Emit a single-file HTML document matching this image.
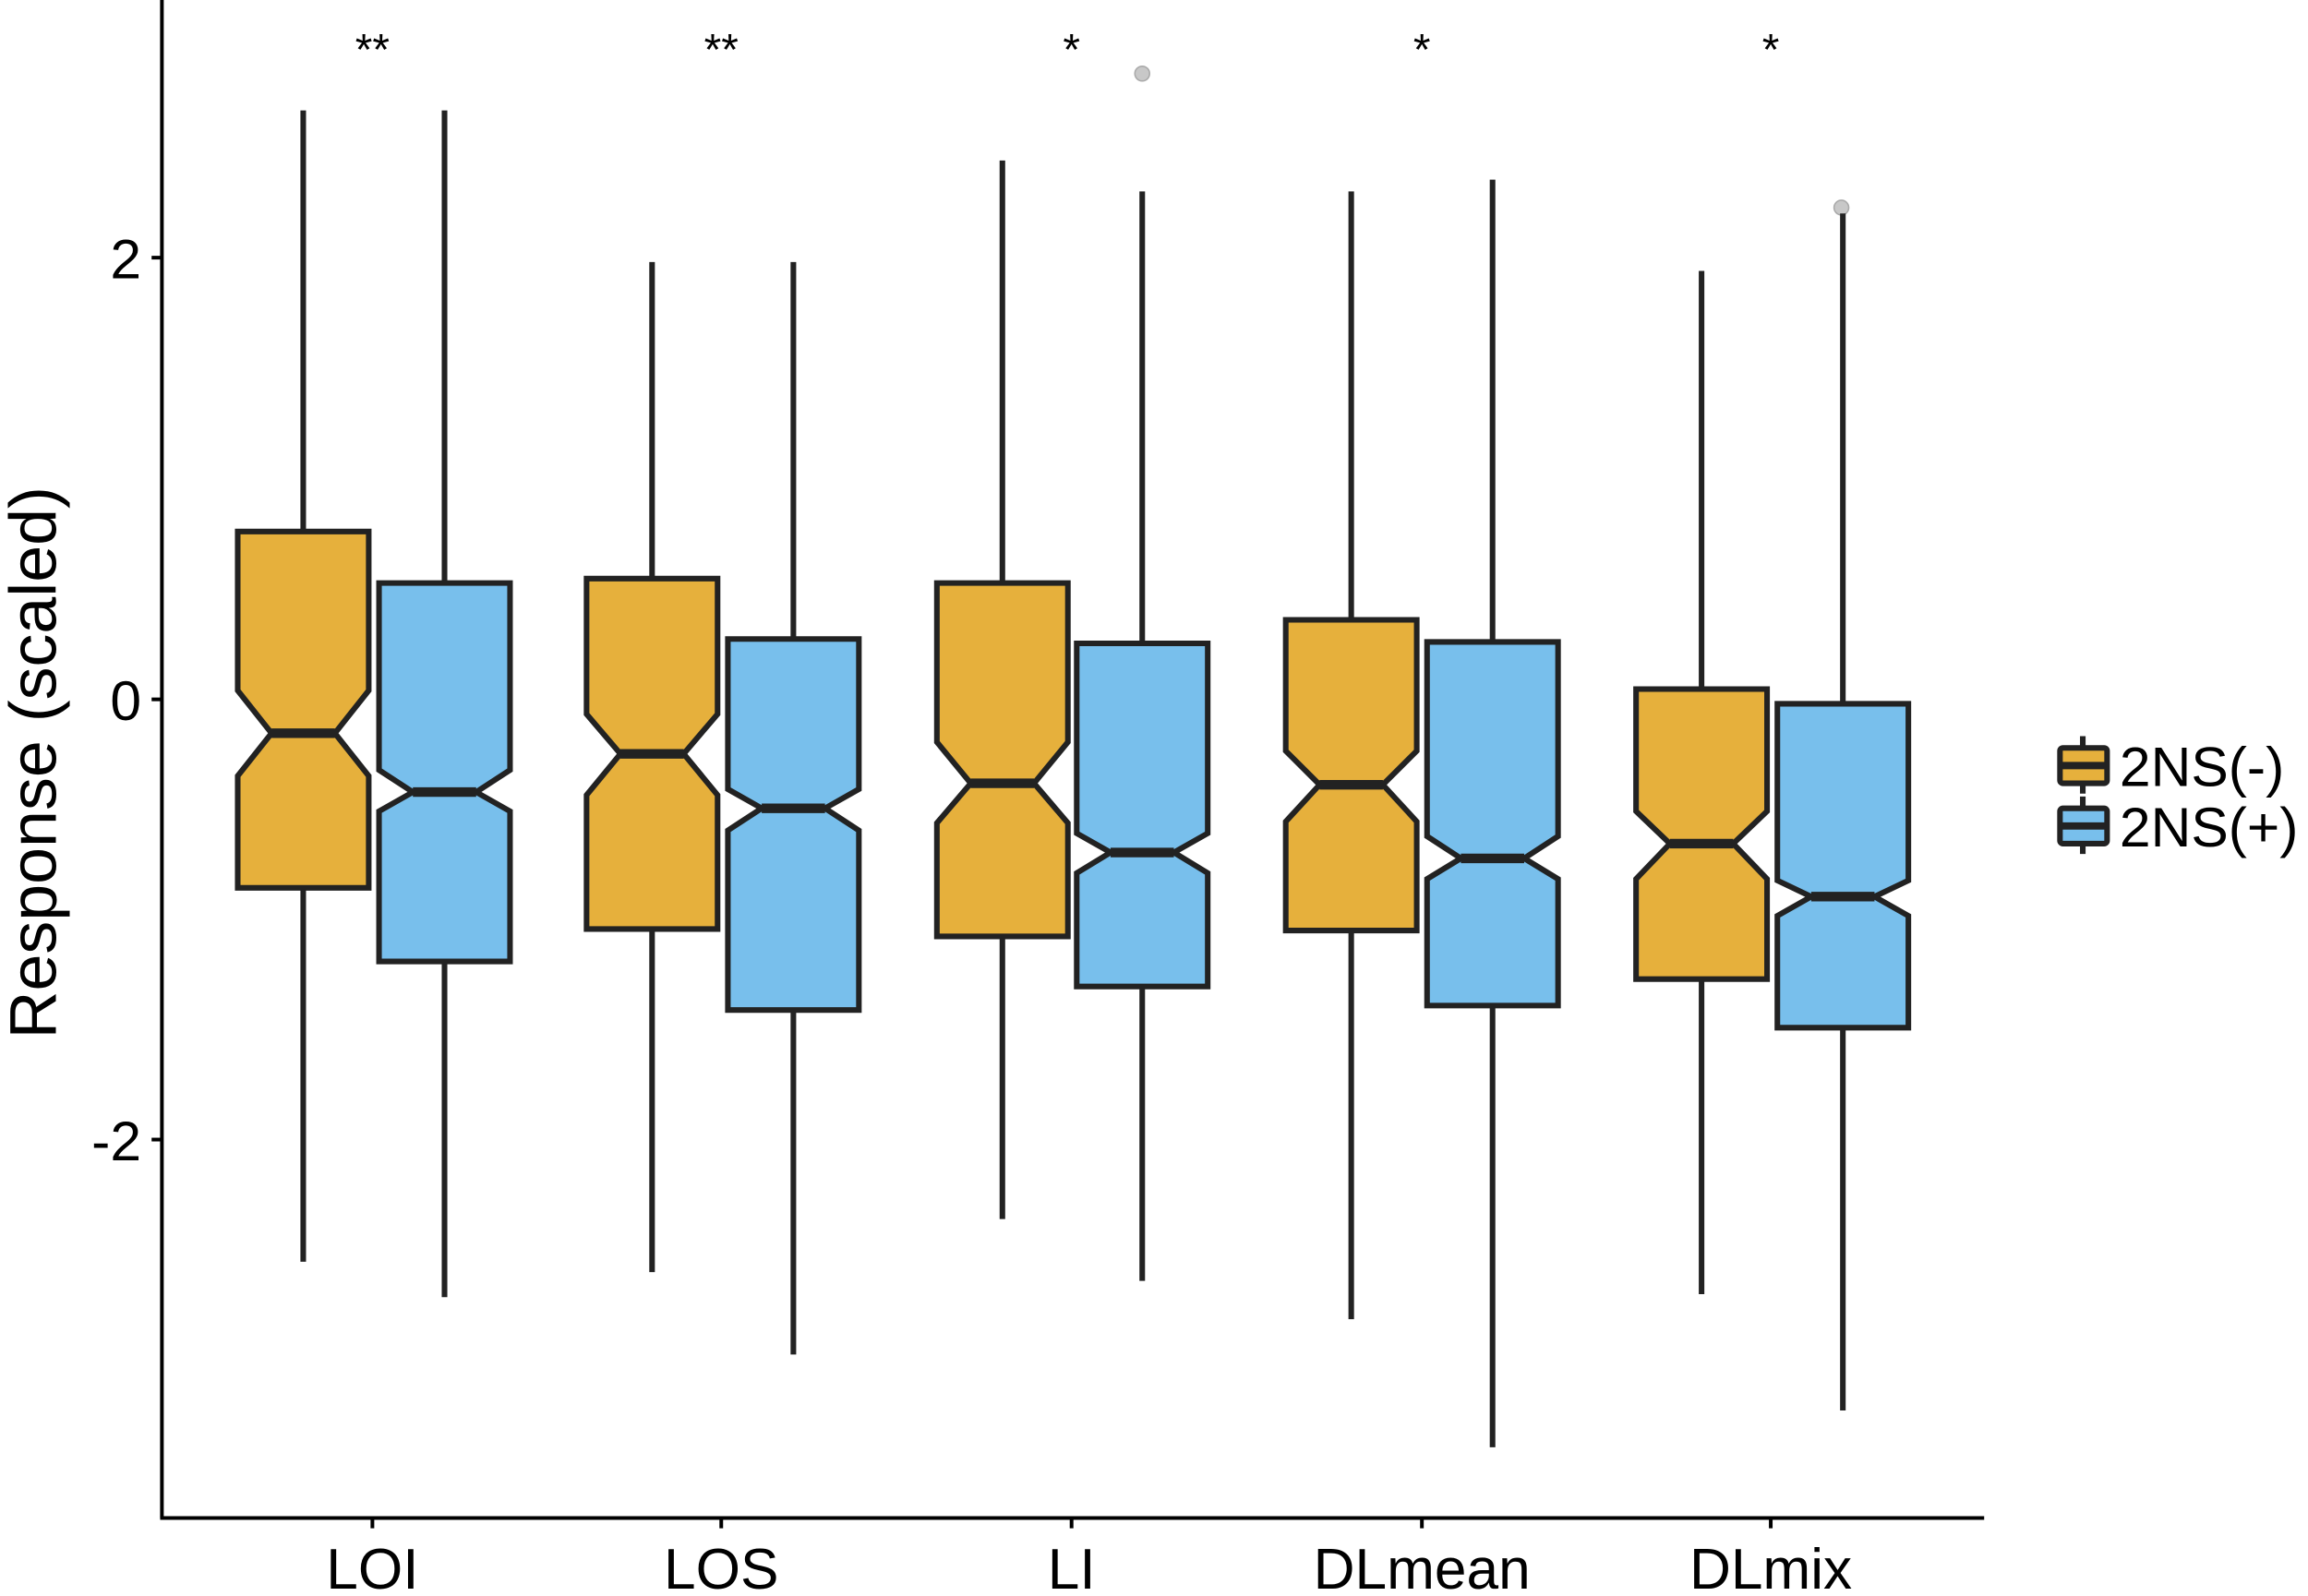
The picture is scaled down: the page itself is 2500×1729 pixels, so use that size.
<!DOCTYPE html>
<html><head><meta charset="utf-8"><style>html,body{margin:0;padding:0;background:#fff}svg{display:block}</style></head>
<body>
<svg width="2500" height="1729" viewBox="0 0 1568 1084" preserveAspectRatio="none" xmlns="http://www.w3.org/2000/svg" font-family="Liberation Sans, Arial, sans-serif">
<rect width="1568" height="1084" fill="#fff"/>
<g stroke="#000" stroke-width="2.5" fill="none">
<line x1="110" y1="0" x2="110" y2="1031"/>
<line x1="108.8" y1="1031" x2="1348" y2="1031"/>
<line x1="103" y1="175" x2="110" y2="175"/>
<line x1="103" y1="475" x2="110" y2="475"/>
<line x1="103" y1="774" x2="110" y2="774"/>
<line x1="253" y1="1031" x2="253" y2="1038"/>
<line x1="490" y1="1031" x2="490" y2="1038"/>
<line x1="728" y1="1031" x2="728" y2="1038"/>
<line x1="966" y1="1031" x2="966" y2="1038"/>
<line x1="1203" y1="1031" x2="1203" y2="1038"/>
</g>
<g font-size="38" text-anchor="end" fill="#000">
<text x="96" y="189">2</text><text x="96" y="489">0</text><text x="96" y="788">-2</text>
</g>
<g font-size="39" text-anchor="middle" fill="#000">
<text x="253" y="1079">LOI</text><text x="490" y="1079">LOS</text><text x="728" y="1079">LI</text><text x="966" y="1079">DLmean</text><text x="1203" y="1079">DLmix</text>
</g>
<text transform="translate(38,518) rotate(-90)" font-size="45" text-anchor="middle" fill="#000">Response (scaled)</text>
<g font-size="30" text-anchor="middle" fill="#000">
<text x="253" y="44">**</text><text x="490" y="44">**</text><text x="728" y="44">*</text><text x="966" y="44">*</text><text x="1203" y="44">*</text>
</g>
<circle cx="776" cy="50" r="5" fill="#c8c8c8" stroke="#aaa" stroke-width="1"/>
<circle cx="1251" cy="141" r="5" fill="#c8c8c8" stroke="#aaa" stroke-width="1"/>
<g stroke="#222" stroke-width="3.8" stroke-linejoin="miter">
<line x1="206" y1="75" x2="206" y2="857"/>
<path d="M161.5,361H250.5V469L227.5,498L250.5,527V603H161.5V527L184.5,498L161.5,469Z" fill="#e6b03c"/>
<line x1="184.5" y1="498" x2="227.5" y2="498" stroke-width="6.5"/>
<line x1="302" y1="75" x2="302" y2="881"/>
<path d="M257.5,396H346.5V523L323.5,538L346.5,551V653H257.5V551L280.5,538L257.5,523Z" fill="#78bfec"/>
<line x1="280.5" y1="538" x2="323.5" y2="538" stroke-width="6.5"/>
<line x1="443" y1="178" x2="443" y2="864"/>
<path d="M398.5,393H487.5V485L464.5,512L487.5,540V631H398.5V540L421.5,512L398.5,485Z" fill="#e6b03c"/>
<line x1="421.5" y1="512" x2="464.5" y2="512" stroke-width="6.5"/>
<line x1="539" y1="178" x2="539" y2="920"/>
<path d="M494.5,434H583.5V536L560.5,549L583.5,564V686H494.5V564L517.5,549L494.5,536Z" fill="#78bfec"/>
<line x1="517.5" y1="549" x2="560.5" y2="549" stroke-width="6.5"/>
<line x1="681" y1="109" x2="681" y2="828"/>
<path d="M636.5,396H725.5V504L702.5,532L725.5,559V636H636.5V559L659.5,532L636.5,504Z" fill="#e6b03c"/>
<line x1="659.5" y1="532" x2="702.5" y2="532" stroke-width="6.5"/>
<line x1="776" y1="130" x2="776" y2="870"/>
<path d="M731.5,437H820.5V566L797.5,579L820.5,593V670H731.5V593L754.5,579L731.5,566Z" fill="#78bfec"/>
<line x1="754.5" y1="579" x2="797.5" y2="579" stroke-width="6.5"/>
<line x1="918" y1="130" x2="918" y2="896"/>
<path d="M873.5,421H962.5V510L939.5,533L962.5,558V632H873.5V558L896.5,533L873.5,510Z" fill="#e6b03c"/>
<line x1="896.5" y1="533" x2="939.5" y2="533" stroke-width="6.5"/>
<line x1="1014" y1="122" x2="1014" y2="983"/>
<path d="M969.5,436H1058.5V568L1035.5,583L1058.5,597V683H969.5V597L992.5,583L969.5,568Z" fill="#78bfec"/>
<line x1="992.5" y1="583" x2="1035.5" y2="583" stroke-width="6.5"/>
<line x1="1156" y1="184" x2="1156" y2="879"/>
<path d="M1111.5,468H1200.5V551L1177.5,573L1200.5,597V665H1111.5V597L1134.5,573L1111.5,551Z" fill="#e6b03c"/>
<line x1="1134.5" y1="573" x2="1177.5" y2="573" stroke-width="6.5"/>
<line x1="1252" y1="145" x2="1252" y2="958"/>
<path d="M1207.5,478H1296.5V598L1273.5,609L1296.5,622V698H1207.5V622L1230.5,609L1207.5,598Z" fill="#78bfec"/>
<line x1="1230.5" y1="609" x2="1273.5" y2="609" stroke-width="6.5"/>
</g>
<g stroke="#222" stroke-width="3.8">
<line x1="1415" y1="500" x2="1415" y2="539"/>
<rect x="1399.5" y="508" width="32" height="24" rx="2" fill="#e6b03c"/>
<line x1="1399.5" y1="520" x2="1431.5" y2="520" stroke-width="5"/>
<line x1="1415" y1="541" x2="1415" y2="580"/>
<rect x="1399.5" y="549" width="32" height="24" rx="2" fill="#78bfec"/>
<line x1="1399.5" y1="561" x2="1431.5" y2="561" stroke-width="5"/>
</g>
<g font-size="38" fill="#000">
<text x="1440" y="534">2NS(-)</text>
<text x="1440" y="575">2NS(+)</text>
</g>
</svg>
</body></html>
